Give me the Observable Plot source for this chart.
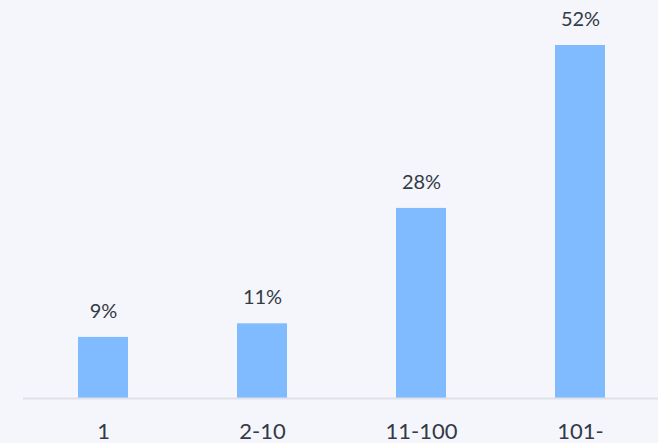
<!DOCTYPE html>
<html>
<head>
<meta charset="utf-8">
<script src="https://cdn.jsdelivr.net/npm/d3@7"></script>
<script src="https://cdn.jsdelivr.net/npm/@observablehq/plot@0.6"></script>
<style>
  html, body { margin: 0; padding: 0; background: #f5f6fb; }
  #chart svg { display: block; }
</style>
</head>
<body>
<div id="chart"></div>
<script>
const categories = ["1", "2-10", "11-100", "101-"];
const values = [9, 11, 28, 52];
const valueLabels = ["9%", "11%", "28%", "52%"];

const data = categories.map((c, i) => ({ category: c, value: values[i], label: valueLabels[i] }));

const chart = Plot.plot({
  width: 658,
  height: 443,
  marginLeft: 23,
  marginRight: -2,
  marginTop: 45,
  marginBottom: 45,
  style: { background: "#f5f6fb", fontFamily: "Lato, sans-serif", color: "#343a46", overflow: "hidden" },
  x: { domain: categories, paddingInner: 0.685, paddingOuter: 0.34, label: null },
  y: { domain: [0, 52], axis: null },
  marks: [
    Plot.barY(data, { x: "category", y: "value", fill: "#80baff" }),
    Plot.ruleY([0], { stroke: "#dfe2ea", strokeWidth: 2 }),
    Plot.text(data, { x: "category", y: "value", text: "label", dy: -26, fontSize: 20, fill: "#343a46" }),
    Plot.axisX({ tickSize: 0, tickPadding: 25, fontSize: 22, fill: "#343a46", label: null })
  ]
});
document.getElementById("chart").appendChild(chart);
</script>
</body>
</html>
